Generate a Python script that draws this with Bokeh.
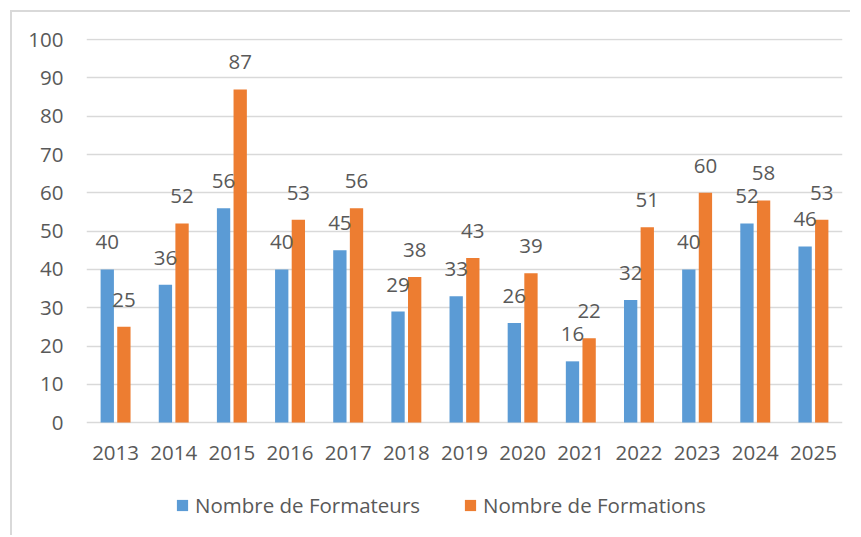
from bokeh.plotting import figure
from bokeh.models import (ColumnDataSource, Range1d, FactorRange, LabelSet, Legend,
                          LegendItem, FixedTicker)
from bokeh.core.properties import value
from bokeh.transform import dodge
from bokeh.embed import file_html
from bokeh.resources import INLINE

years = ["2013", "2014", "2015", "2016", "2017", "2018", "2019",
         "2020", "2021", "2022", "2023", "2024", "2025"]
formateurs = [40, 36, 56, 40, 45, 29, 33, 26, 16, 32, 40, 52, 46]
formations = [25, 52, 87, 53, 56, 38, 43, 39, 22, 51, 60, 58, 53]
y_ticks = [0, 10, 20, 30, 40, 50, 60, 70, 80, 90, 100]

BLUE = "#5B9BD5"
ORANGE = "#ED7D31"
TEXT = "#595959"
GRID = "#D9D9D9"
FONT = "Open Sans"
FS = "20.5px"

src = ColumnDataSource(dict(year=years, a=formateurs, b=formations,
                            la=[str(v) for v in formateurs],
                            lb=[str(v) for v in formations],
                            base=[0] * len(years)))

p = figure(width=840, height=525, output_backend="svg", toolbar_location=None,
           x_range=FactorRange(factors=years, range_padding=0),
           y_range=Range1d(-30.0, 100.3),
           min_border_left=74, min_border_right=10,
           min_border_top=26, min_border_bottom=0)
p.margin = (10, 0, 0, 10)
p.styles = {"border-top": "2px solid #D9D9D9", "border-left": "2px solid #D9D9D9"}
p.outline_line_color = None
p.background_fill_color = "white"
p.border_fill_color = "white"

off = 0.143
bw = 0.229
ra = p.vbar(x=dodge("year", -off, range=p.x_range), top="a", width=bw, source=src,
            fill_color=BLUE, line_color=None)
rb = p.vbar(x=dodge("year", off, range=p.x_range), top="b", width=bw, source=src,
            fill_color=ORANGE, line_color=None)

for col, lab, d in (("a", "la", -off), ("b", "lb", off)):
    ls = LabelSet(x=dodge("year", d, range=p.x_range), y=col, text=lab, source=src,
                  text_align="center", text_baseline="middle", y_offset=27,
                  text_font=value(FONT), text_font_size=FS, text_color=TEXT)
    p.add_layout(ls)

# category labels under the zero line
cat = LabelSet(x="year", y="base", text="year", source=src,
               text_align="center", text_baseline="middle", y_offset=-30,
               text_font=value(FONT), text_font_size=FS, text_color=TEXT)
p.add_layout(cat)
p.xaxis.visible = False

# y axis
p.yaxis.ticker = FixedTicker(ticks=y_ticks)
ax = p.yaxis[0]
ax.axis_line_color = None
ax.major_tick_line_color = None
ax.minor_tick_line_color = None
ax.major_tick_out = 0
ax.major_tick_in = 0
ax.minor_tick_out = 0
ax.major_label_text_font = FONT
ax.major_label_text_font_size = FS
ax.major_label_text_color = TEXT
ax.major_label_standoff = 23

p.xgrid.grid_line_color = None
p.ygrid.grid_line_color = GRID
p.ygrid.grid_line_width = 1.5
p.ygrid.ticker = FixedTicker(ticks=y_ticks)

legend = Legend(items=[LegendItem(label="Nombre de Formateurs", renderers=[ra]),
                       LegendItem(label="Nombre de Formations", renderers=[rb])],
                orientation="horizontal", location=(89, 18),
                glyph_width=14, glyph_height=14, label_standoff=6, spacing=43,
                padding=0, margin=0, border_line_color=None, background_fill_alpha=0,
                label_text_font=FONT, label_text_font_size=FS, label_text_color=TEXT)
p.add_layout(legend, "center")

open("out.html", "w").write(file_html(p, INLINE))
